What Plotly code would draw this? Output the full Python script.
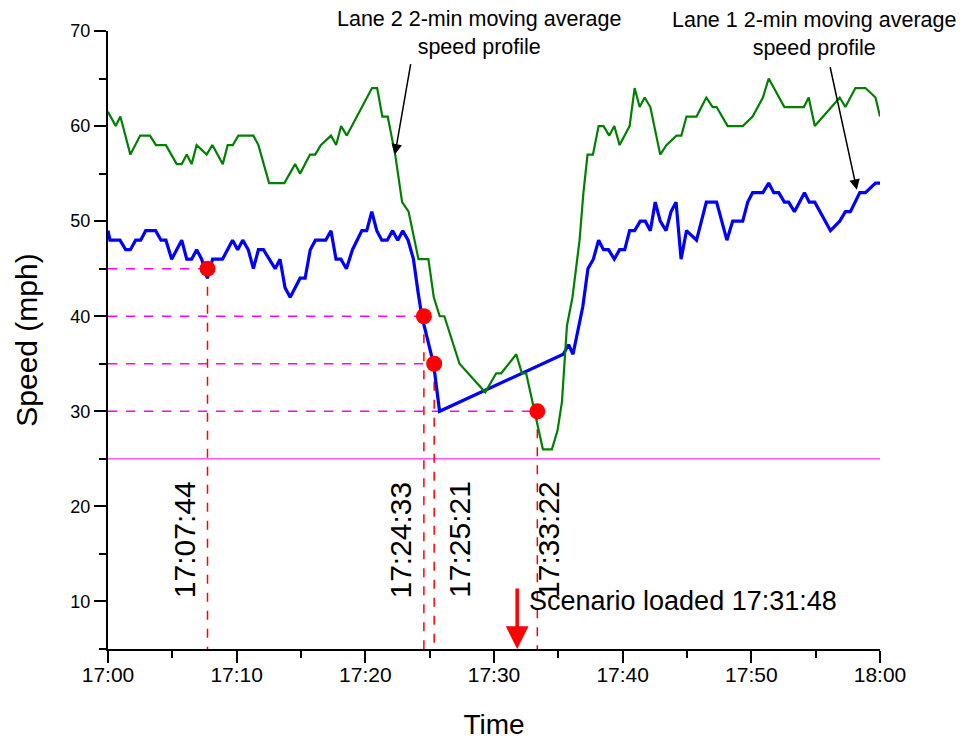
import plotly.graph_objects as go

# ---------------- data ----------------
x_tick_vals = [0, 10, 20, 30, 40, 50, 60]
x_tick_text = ["17:00", "17:10", "17:20", "17:30", "17:40", "17:50", "18:00"]

# Lane 1 (blue) 2-min moving average speed, minutes after 17:00
lane1_min = [0.0, 0.15, 0.93, 1.37, 1.74, 2.15, 2.54, 2.93, 3.7, 4.12, 4.5, 4.95, 5.73, 6.12,
             6.5, 6.89, 7.28, 7.72, 8.13, 8.9, 9.68, 10.08, 10.47, 10.9, 11.3, 11.69, 12.08,
             12.99, 13.37, 13.76, 14.16, 14.93, 15.32, 15.72, 16.12, 16.92, 17.33, 17.72, 18.1,
             18.53, 19.0, 19.73, 20.11, 20.5, 20.89, 21.28, 21.7, 22.12, 22.52, 22.91, 23.32,
             23.74, 24.1, 24.39, 25.3, 25.77, 35.38, 35.8, 36.14, 36.9, 37.3, 37.72, 38.13,
             38.51, 38.9, 39.35, 39.76, 40.16, 40.54, 40.93, 41.37, 41.76, 42.15, 42.53, 42.92,
             43.37, 43.76, 44.15, 44.54, 44.96, 45.74, 46.5, 47.3, 48.1, 48.55, 49.33, 49.72,
             50.1, 50.9, 51.35, 51.74, 52.13, 52.57, 52.9, 53.35, 54.13, 54.5, 54.93, 56.15,
             56.87, 57.31, 57.7, 58.43, 58.87, 59.65, 60.0]
lane1_speed = [49, 48, 48, 47, 47, 48, 48, 49, 49, 48, 48, 46, 48, 46,
               46, 47, 46, 44, 46, 46, 48, 47, 48, 47, 45, 47, 47,
               45, 46, 43, 42, 44, 44, 47, 48, 48, 49, 46, 46,
               45, 47, 49, 49, 51, 49, 48, 48, 49, 48, 49, 48,
               46, 42.5, 40, 35, 30, 36, 37, 36, 41, 45, 46, 48,
               47, 47, 46, 47, 47, 49, 49, 50, 50, 49, 52, 50,
               49, 51, 52, 46, 49, 48, 52, 52, 48, 50, 50, 52,
               53, 53, 54, 53, 53, 52, 52, 51, 53, 52, 52, 49,
               50, 51, 51, 53, 53, 54, 54]

# Lane 2 (green) 2-min moving average speed
lane2_min = [0.0, 0.6, 0.96, 1.74, 2.5, 3.26, 3.73, 4.5, 5.34, 5.73, 6.12, 6.5, 6.89, 7.67,
             8.11, 8.92, 9.3, 9.7, 10.13, 11.3, 11.69, 12.52, 13.71, 14.54, 14.93, 15.7, 16.1,
             16.54, 17.33, 17.73, 18.12, 18.56, 20.52, 20.92, 21.32, 21.74, 22.32, 22.86, 23.36,
             24.13, 24.9, 25.32, 25.78, 26.14, 27.32, 29.32, 30.17, 30.56, 31.73, 32.17, 32.5,
             33.8, 34.5, 34.94, 35.28, 35.67, 36.1, 36.65, 36.95, 37.27, 37.69, 38.13, 38.51,
             38.96, 39.35, 39.76, 40.54, 40.93, 41.32, 41.71, 42.15, 42.92, 43.4, 44.18, 44.56,
             44.96, 45.74, 46.5, 47.0, 47.3, 48.16, 49.33, 50.1, 50.9, 51.35, 52.57, 54.08,
             54.46, 54.93, 56.87, 57.31, 58.09, 58.87, 59.65, 60.0]
lane2_speed = [61.5, 60, 61, 57, 59, 59, 58, 58, 56, 56, 57, 56, 58, 57,
               58, 56, 58, 58, 59, 59, 58, 54, 54, 56, 55, 57, 57,
               58, 59, 58, 60, 59, 64, 64, 61, 61, 57, 52, 51,
               46, 46, 42, 40, 40, 35, 32, 34, 34, 36, 34, 34,
               26, 26, 28, 31, 39, 42, 48, 53, 57, 57, 60, 60,
               59, 60, 58, 60, 64, 62, 63, 62, 57, 58, 59, 59,
               61, 61, 63, 62, 62, 60, 60, 61, 63, 65, 62, 62,
               63, 60, 63, 62, 64, 64, 63, 61]

# Threshold crossing events
event_min = [7.733, 24.55, 25.35, 33.367]
event_speed = [45, 40, 35, 30]
event_labels = ["17:07:44", "17:24:33", "17:25:21", "17:33:22"]
event_label_shift = [-23, -23, 25, 11]

threshold_speed = 25
scenario_min = 31.8
scenario_label = "Scenario loaded 17:31:48"

Y_MIN, Y_MAX = 5, 70
X_MIN, X_MAX = 0, 60

FONT = "Arial, Liberation Sans, sans-serif"

fig = go.Figure()

# threshold line
fig.add_trace(go.Scatter(x=[X_MIN, X_MAX], y=[threshold_speed, threshold_speed], mode="lines",
                         line=dict(color="#FF00FF", width=1), hoverinfo="skip", showlegend=False))

# guide lines
hx, hy, vx, vy = [], [], [], []
for t, v in zip(event_min, event_speed):
    hx += [X_MIN, t, None]
    hy += [v, v, None]
    vx += [t, t, None]
    vy += [v, Y_MIN, None]
fig.add_trace(go.Scatter(x=hx, y=hy, mode="lines",
                         line=dict(color="#FF00FF", width=1.5, dash="dash"),
                         hoverinfo="skip", showlegend=False))
fig.add_trace(go.Scatter(x=vx, y=vy, mode="lines",
                         line=dict(color="#FF0000", width=1.5, dash="dash"),
                         hoverinfo="skip", showlegend=False))

fig.add_trace(go.Scatter(x=lane1_min, y=lane1_speed, mode="lines", name="Lane 1",
                         line=dict(color="#0000FF", width=3.2), showlegend=False))
fig.add_trace(go.Scatter(x=lane2_min, y=lane2_speed, mode="lines", name="Lane 2",
                         line=dict(color="#008000", width=2.2), showlegend=False))

fig.add_trace(go.Scatter(x=event_min, y=event_speed, mode="markers",
                         marker=dict(color="#FF0000", size=16, line=dict(width=0)),
                         showlegend=False))

annotations = []
for t, lab, sh in zip(event_min, event_labels, event_label_shift):
    annotations.append(dict(x=t, y=16.5, xref="x", yref="y", text=lab, showarrow=False,
                            textangle=-90, xshift=sh, font=dict(family=FONT, size=30, color="black")))

annotations.append(dict(x=scenario_min, y=Y_MIN, xref="x", yref="y", ax=0, ay=-62,
                        text="", showarrow=True, arrowhead=2, arrowsize=1.3, arrowwidth=3.5,
                        arrowcolor="#FF0000", standoff=0))
annotations.append(dict(x=32.55, y=10.1, xref="x", yref="y", text=scenario_label, showarrow=False,
                        xanchor="left", font=dict(family=FONT, size=27, color="black")))

annotations.append(dict(x=28.8, y=69.8, xref="x", yref="y",
                        text="Lane 2 2-min moving average<br>speed profile", showarrow=False,
                        font=dict(family=FONT, size=21.5, color="black")))
annotations.append(dict(x=22.3, y=57.0, xref="x", yref="y", ax=16, ay=-92, text="",
                        showarrow=True, arrowhead=2, arrowsize=1.4, arrowwidth=1.5,
                        arrowcolor="black", standoff=0))
annotations.append(dict(x=54.9, y=69.7, xref="x", yref="y",
                        text="Lane 1 2-min moving average<br>speed profile", showarrow=False,
                        font=dict(family=FONT, size=21.5, color="black")))
annotations.append(dict(x=58.2, y=53.3, xref="x", yref="y", ax=-27, ay=-124, text="",
                        showarrow=True, arrowhead=2, arrowsize=1.4, arrowwidth=1.5,
                        arrowcolor="black", standoff=0))

fig.update_layout(
    width=961, height=740,
    margin=dict(l=108, r=81, t=31, b=91, autoexpand=False),
    plot_bgcolor="white", paper_bgcolor="white",
    font=dict(family=FONT, color="black"),
    annotations=annotations,
    showlegend=False,
)
fig.update_xaxes(range=[X_MIN, X_MAX], tickvals=x_tick_vals, ticktext=x_tick_text,
                 automargin=False,
                 showgrid=False, zeroline=False, showline=True, linecolor="black", linewidth=2,
                 ticks="outside", ticklen=12, tickwidth=2, tickcolor="black",
                 tickfont=dict(family=FONT, size=21), ticklabelstandoff=-6,
                 minor=dict(dtick=5, tick0=0, ticks="outside", ticklen=7, tickwidth=2, tickcolor="black"),
                 title=dict(text="Time", font=dict(family=FONT, size=28), standoff=31))
fig.update_yaxes(range=[Y_MIN, Y_MAX], tick0=0, dtick=10,
                 automargin=False,
                 showgrid=False, zeroline=False, showline=True, linecolor="black", linewidth=2,
                 ticks="outside", ticklen=12, tickwidth=2, tickcolor="black",
                 tickfont=dict(family=FONT, size=18),
                 minor=dict(dtick=5, tick0=0, ticks="outside", ticklen=7, tickwidth=2, tickcolor="black"),
                 title=dict(text="Speed (mph)", font=dict(family=FONT, size=30), standoff=24))

fig.write_html("out.html")
